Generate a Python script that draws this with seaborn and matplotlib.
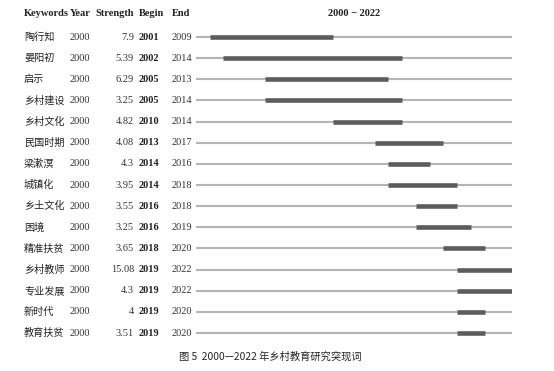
import seaborn as sns
import matplotlib.pyplot as plt
import matplotlib.transforms as mtransforms

# 突现词 데이터
keywords = ["陶行知", "晏阳初", "启示", "乡村建设", "乡村文化", "民国时期", "梁漱溟", "城镇化",
            "乡土文化", "困境", "精准扶贫", "乡村教师", "专业发展", "新时代", "教育扶贫"]
years = [2000] * 15
strength = ["7.9", "5.39", "6.29", "3.25", "4.82", "4.08", "4.3", "3.95",
            "3.55", "3.25", "3.65", "15.08", "4.3", "4", "3.51"]
begin = [2001, 2002, 2005, 2005, 2010, 2013, 2014, 2014, 2016, 2016, 2018, 2019, 2019, 2019, 2019]
end = [2009, 2014, 2013, 2014, 2014, 2017, 2016, 2018, 2018, 2019, 2020, 2022, 2022, 2020, 2020]
start_year, end_year = 2000, 2022

sns.set_style("white")
plt.rcParams['font.family'] = ['Liberation Serif', 'Noto Sans CJK SC']

fig = plt.figure(figsize=(5.54, 3.71), dpi=100)
ax = fig.add_axes([0.3538, 0.0739, 0.5704, 0.8548])

n = len(keywords)
rows = list(range(n))
ax.hlines(rows, start_year, end_year + 1, color='#b4b4b4', lw=1.5)  # 전체 기간
ax.hlines(rows, begin, [e + 1 for e in end], color='#5c5c5c', lw=3.3)  # 突现 구간
ax.set_xlim(start_year, end_year + 1)
ax.set_ylim(n - 0.5, -0.5)
ax.axis('off')

trans = mtransforms.blended_transform_factory(fig.transFigure, ax.transData)
cjk = ['Noto Sans CJK SC', 'DejaVu Sans']
for i in rows:
    ax.text(24 / 554, i, keywords[i], transform=trans, ha='left', va='center',
            fontsize=7.3, family=cjk, color='#222222')
    ax.text(70 / 554, i, str(years[i]), transform=trans, ha='left', va='center', fontsize=7.5, color='#333333')
    ax.text(134 / 554, i, strength[i], transform=trans, ha='right', va='center', fontsize=7.5, color='#333333')
    ax.text(139 / 554, i, str(begin[i]), transform=trans, ha='left', va='center', fontsize=7.5,
            fontweight='bold', color='#222222')
    ax.text(172 / 554, i, str(end[i]), transform=trans, ha='left', va='center', fontsize=7.5, color='#333333')

# 헤더
hy = 1 - 14 / 371
for x, s, ha in [(24, "Keywords", 'left'), (70, "Year", 'left'), (134, "Strength", 'right'),
                 (139, "Begin", 'left'), (172, "End", 'left')]:
    fig.text(x / 554, hy, s, ha=ha, va='center', fontsize=7.5, fontweight='bold', color='#222222')
fig.text(354 / 554, hy, f"{start_year} \u2212 {end_year}", ha='center', va='center', fontsize=7.5,
         fontweight='bold', color='#222222')

fig.text(270 / 554, 1 - 356 / 371, "图 5  2000—2022 年乡村教育研究突现词", ha='center', va='center',
         fontsize=7.4, family=cjk, color='#222222')

plt.savefig('out.png', dpi=100)
